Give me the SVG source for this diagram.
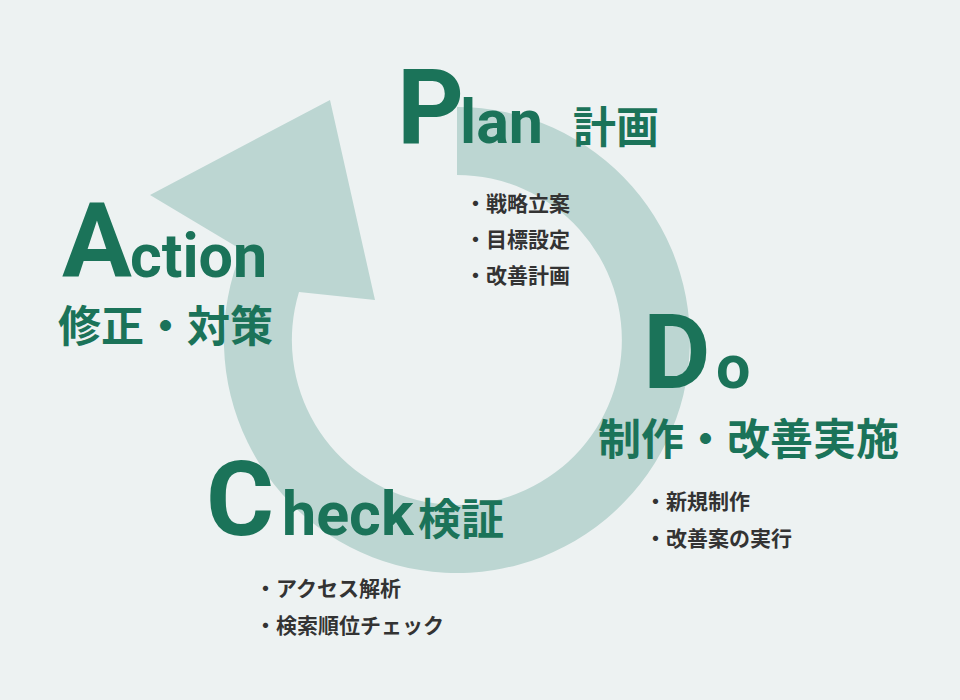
<svg xmlns="http://www.w3.org/2000/svg" width="960" height="700" viewBox="0 0 960 700">
<style>
.g{fill:#1b7359;font-family:Roboto,"Noto Sans CJK JP",sans-serif;font-weight:700}
.big{font-size:104px}
.mid{font-size:61px}
.jp{font-size:43px;font-family:"Noto Sans CJK JP",sans-serif}
.b{fill:#333;font-family:"Noto Sans CJK JP",sans-serif;font-weight:700;font-size:21px}
</style>
<rect width="960" height="700" fill="#edf2f2"/>
<g id="connectors">
<path d="M457 107 A233 233 0 1 1 242 250 L150 195 L330 100 L375 300 L299 292 A165 165 0 1 0 457 175 Z" fill="#bcd6d2"/>
</g>
<g id="plan">
<text x="397" y="143" class="g big">P</text><text x="460" y="143" class="g mid">lan</text><text x="573" y="143" class="g jp">計画</text>
<text x="465" y="211" class="b">・戦略立案</text><text x="465" y="247" class="b">・目標設定</text><text x="465" y="283" class="b">・改善計画</text>
</g>
<g id="do">
<text x="643" y="388" class="g big">D</text><text x="716" y="388" class="g mid">o</text>
<text x="598" y="455" class="g jp">制作・改善実施</text>
<text x="645" y="509" class="b">・新規制作</text><text x="645" y="546" class="b">・改善案の実行</text>
</g>
<g id="check">
<text x="206" y="535" class="g big">C</text><text x="282" y="535" class="g mid">heck</text><text x="418" y="535" class="g jp">検証</text>
<text x="255" y="596" class="b">・アクセス解析</text><text x="255" y="633" class="b">・検索順位チェック</text>
</g>
<g id="action">
<text x="62" y="277" class="g big">A</text><text x="130" y="277" class="g mid">ction</text>
<text x="58" y="342" class="g jp">修正・対策</text>
</g>
</svg>
